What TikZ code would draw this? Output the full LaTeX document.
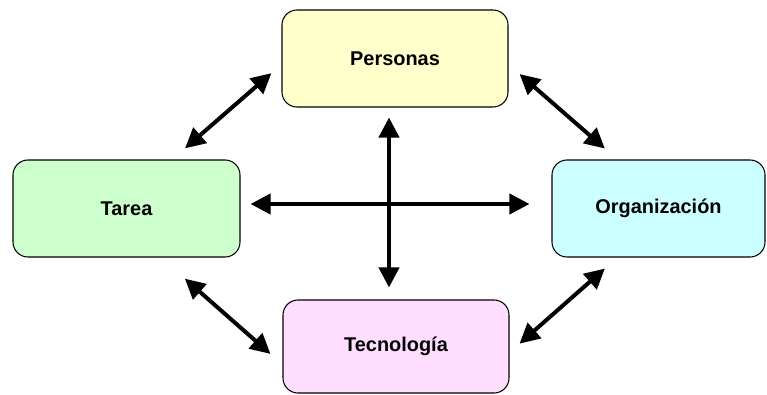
\documentclass[tikz,border=0pt]{standalone}
\usepackage{fontspec}
\setmainfont{Liberation Sans}
\definecolor{persfill}{RGB}{255,255,204}
\definecolor{tareafill}{RGB}{204,255,204}
\definecolor{orgfill}{RGB}{204,255,255}
\definecolor{tecfill}{RGB}{255,221,255}
\usetikzlibrary{arrows.meta,positioning,calc}
\tikzset{
  caja/.style={draw,line width=0.9pt,rounded corners=0.45cm,inner sep=0pt,
        minimum width=6.78cm,minimum height=2.91cm,align=center,
        font=\fontsize{17}{20}\selectfont\bfseries},
  enlace/.style={line width=0.12cm,
        {Triangle[length=0.6cm,width=0.6cm]}-{Triangle[length=0.6cm,width=0.6cm]}}
}

\begin{document}
\begin{tikzpicture}[x=0.03cm,y=-0.03cm]
  \useasboundingbox (0,0) rectangle (767,394);
  \node[caja,fill=persfill] (persona) at (395,58.5) {Personas};
  \node[caja,fill=tareafill,minimum width=6.81cm] (tarea) at (126.5,208.5) {Tarea};
  \node[caja,fill=orgfill,minimum width=6.39cm] (organizacion) at (658.5,208.5) {Organización};
  \node[caja,fill=tecfill,minimum height=2.79cm] (tecnologia) at (396,346.5) {Tecnología};
  \coordinate (cruce) at (389,204);
  \draw[enlace,shorten <=0.3cm,shorten >=0.36cm] (cruce |- persona.south) -- (cruce |- tecnologia.north);
  \draw[enlace,shorten <=0.3cm,shorten >=0.66cm] (tarea.east |- cruce) -- (organizacion.west |- cruce);
  \draw[enlace,shorten <=0.4cm,shorten >=0.51cm] (persona.183) -- (tarea.47);
  \draw[enlace,shorten <=0.44cm,shorten >=0.5cm] (persona.-3) -- (organizacion.130);
  \draw[enlace,shorten <=0.96cm,shorten >=0.48cm] (tarea.-55) -- (tecnologia.189);
  \draw[enlace,shorten <=0.4cm,shorten >=0.5cm] (tecnologia.-3) -- (organizacion.230);
\end{tikzpicture}
\end{document}
